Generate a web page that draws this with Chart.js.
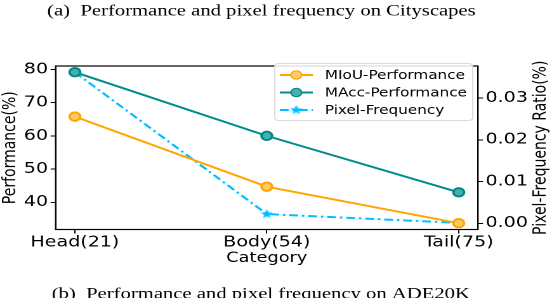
<!DOCTYPE html>
<html>
<head>
<meta charset="utf-8">
<script src="https://cdn.jsdelivr.net/npm/chart.js@4/dist/chart.umd.min.js"></script>
<style>
  html, body { margin: 0; padding: 0; background: #fff; overflow: hidden; }
  /* the figure is drawn narrow and stretched sideways, like the source image */
  #wrap { width: 435px; height: 298px; position: relative; transform: scaleX(1.269); transform-origin: 0 0; }
</style>
</head>
<body>
<div id="wrap"><canvas id="chart"></canvas></div>
<script>
const categories = ["Head(21)", "Body(54)", "Tail(75)"];
const miouPerf = [65.8, 44.7, 33.7];
const maccPerf = [79.2, 60.0, 43.0];
const pixelFreq = [0.0362, 0.0022, 0.0001];
const leftTicks = [40, 50, 60, 70, 80];
const rightTicks = [0.00, 0.01, 0.02, 0.03];

const tickFont = { family: "DejaVu Sans", size: 15 };
const titleFont = { family: "DejaVu Sans", size: 14 };

function pts(values) {
  return values.map((v, i) => ({ x: i, y: v }));
}

// filled star marker for the pixel frequency line
function starMarker(color, r) {
  const s = document.createElement("canvas");
  const size = Math.ceil(r * 2 + 2);
  s.width = size;
  s.height = size;
  const g = s.getContext("2d");
  g.fillStyle = color;
  g.beginPath();
  for (let k = 0; k < 10; k++) {
    const rad = k % 2 === 0 ? r : r * 0.45;
    const ang = -Math.PI / 2 + k * Math.PI / 5;
    g.lineTo(size / 2 + rad * Math.cos(ang), size / 2 + rad * Math.sin(ang));
  }
  g.closePath();
  g.fill();
  return s;
}

const star = starMarker("#00BFFF", 5);

// frame around plot, right title (reads upwards), legend, captions
const extras = {
  id: "extras",
  afterDraw(c) {
    const ctx = c.ctx;
    const a = c.chartArea;
    ctx.save();
    ctx.strokeStyle = "#000";
    ctx.lineWidth = 1.2;
    ctx.strokeRect(a.left, a.top, a.right - a.left, a.bottom - a.top);

    ctx.save();
    ctx.translate(c.width - 8.6, (a.top + a.bottom) / 2);
    ctx.rotate(-Math.PI / 2);
    ctx.fillStyle = "#000";
    ctx.font = "14px 'DejaVu Sans'";
    ctx.textAlign = "center";
    ctx.textBaseline = "middle";
    ctx.fillText("Pixel-Frequency Ratio(%)", 0, 0);
    ctx.restore();

    // legend
    const lx = 216.5, ly = 63.5, lw = 156, lh = 57;
    ctx.fillStyle = "rgba(255,255,255,0.85)";
    ctx.strokeStyle = "#dcdcdc";
    ctx.lineWidth = 1;
    ctx.beginPath();
    ctx.roundRect(lx, ly, lw, lh, 3);
    ctx.fill();
    ctx.stroke();
    ctx.font = "12px 'DejaVu Sans'";
    ctx.textBaseline = "middle";
    c.data.datasets.forEach((ds, i) => {
      const y = ly + 11.5 + i * 17.5;
      ctx.strokeStyle = ds.borderColor;
      ctx.lineWidth = 2;
      ctx.setLineDash(ds.borderDash || []);
      ctx.beginPath();
      ctx.moveTo(lx + 4, y);
      ctx.lineTo(lx + 30, y);
      ctx.stroke();
      ctx.setLineDash([]);
      ctx.fillStyle = ds.pointBackgroundColor;
      ctx.strokeStyle = ds.borderColor;
      ctx.lineWidth = 1.2;
      Chart.helpers.drawPoint(ctx, {
        pointStyle: ds.pointStyle,
        radius: ds.pointRadius,
        borderWidth: 1.2
      }, lx + 17, y);
      ctx.fillStyle = "#000";
      ctx.textAlign = "left";
      ctx.fillText(ds.label, lx + 39.5, y + 1);
    });

    // captions
    ctx.fillStyle = "#000";
    ctx.textAlign = "center";
    ctx.textBaseline = "alphabetic";
    ctx.font = "16.3px 'Liberation Serif'";
    ctx.fillText("(a)  Performance and pixel frequency on Cityscapes", 206, 15.5);
    ctx.fillText("(b)  Performance and pixel frequency on ADE20K", 205.5, 298.5);
    ctx.restore();
  }
};

new Chart(document.getElementById("chart"), {
  type: "line",
  data: {
    datasets: [
      {
        label: "MIoU-Performance",
        data: pts(miouPerf),
        yAxisID: "y",
        borderColor: "#FFA500",
        pointBackgroundColor: "#FFCB6B",
        pointStyle: "circle",
        pointRadius: 4.2,
        borderWidth: 2
      },
      {
        label: "MAcc-Performance",
        data: pts(maccPerf),
        yAxisID: "y",
        borderColor: "#008B8B",
        pointBackgroundColor: "#4AAEAE",
        pointStyle: "circle",
        pointRadius: 4.2,
        borderWidth: 2
      },
      {
        label: "Pixel-Frequency",
        data: pts(pixelFreq),
        yAxisID: "y1",
        borderColor: "#00BFFF",
        pointBackgroundColor: "#00BFFF",
        borderDash: [7, 3, 2, 3],
        pointStyle: star,
        pointRadius: 5,
        borderWidth: 2
      }
    ]
  },
  options: {
    responsive: true,
    maintainAspectRatio: false,
    animation: false,
    devicePixelRatio: 2,
    layout: { padding: { top: 66, bottom: 31.1, left: 0, right: 0 } },
    plugins: { legend: { display: false }, tooltip: { enabled: false } },
    scales: {
      x: {
        type: "linear",
        min: -0.1,
        max: 2.1,
        afterBuildTicks: s => { s.ticks = categories.map((_, i) => ({ value: i })); },
        ticks: { color: "#000", font: tickFont, padding: 0, callback: v => categories[v] },
        grid: { display: true, drawOnChartArea: false, tickLength: 4, color: "#000" },
        border: { color: "#000" },
        title: { display: true, text: "Category", color: "#000", font: titleFont, padding: { top: -1.4, bottom: 0 } }
      },
      y: {
        position: "left",
        min: 31.8,
        max: 81.05,
        afterBuildTicks: s => { s.ticks = leftTicks.map(v => ({ value: v })); },
        ticks: { color: "#000", font: tickFont, padding: 2 },
        grid: { display: true, drawOnChartArea: false, tickLength: 4, color: "#000" },
        border: { color: "#000" },
        title: { display: true, text: "Performance(%)", color: "#000", font: titleFont, padding: 0 }
      },
      y1: {
        position: "right",
        min: -0.00149,
        max: 0.0377,
        afterBuildTicks: s => { s.ticks = rightTicks.map(v => ({ value: v })); },
        afterFit: s => { s.width += 17; },
        ticks: { color: "#000", font: tickFont, padding: 2, callback: v => v.toFixed(2) },
        grid: { display: true, drawOnChartArea: false, tickLength: 4, color: "#000" },
        border: { color: "#000" }
      }
    }
  },
  plugins: [extras]
});
</script>
</body>
</html>
